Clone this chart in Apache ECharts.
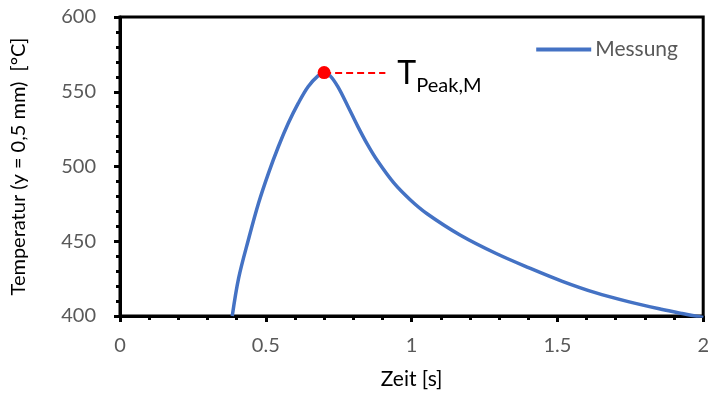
<!DOCTYPE html>
<html>
<head>
<meta charset="utf-8">
<script src="https://cdn.jsdelivr.net/npm/echarts@6/dist/echarts.min.js"></script>
<style>
  html, body { margin: 0; padding: 0; background: #fff; }
  #chart { width: 712px; height: 396px; }
</style>
</head>
<body>
<div id="chart"></div>
<script>
// Messung: Zeit [s] / Temperatur [°C]
const zeit = [0.385, 0.407, 0.441, 0.475, 0.509, 0.543, 0.577, 0.611, 0.645, 0.679, 0.700,
  0.720, 0.747, 0.781, 0.815, 0.849, 0.883, 0.939, 0.996, 1.053, 1.166, 1.290,
  1.403, 1.517, 1.630, 1.743, 1.856, 1.924, 2.0];
const temperatur = [400, 425.5, 451.5, 475.4, 495.4, 513.2, 528.9, 542.2, 553.4, 560.6, 562.8,
  560.8, 553.4, 540.5, 527, 514.6, 503.8, 489, 477.6, 468.4, 454.2, 441.8,
  432.2, 423.2, 415.6, 409.6, 404.5, 401.8, 399];
const xTicks = { min: 0, max: 2, interval: 0.5 };
const yTicks = { min: 400, max: 600, interval: 50 };
const peakLabel = 'T';
const peakSub = 'Peak,M';
const dashLen = 0.21; // how far the dashed line runs to the right, in seconds

// peak of the measurement
let iPeak = 0;
temperatur.forEach((v, i) => { if (v > temperatur[iPeak]) iPeak = i; });
const peak = [zeit[iPeak], temperatur[iPeak]];

const font = 'Lato, "Open Sans", sans-serif';
const grey = '#595959';

const chart = echarts.init(document.getElementById('chart'), null, { renderer: 'canvas' });
chart.setOption({
  animation: false,
  textStyle: { fontFamily: font },
  grid: {
    left: 120, top: 17, right: 3, bottom: 80,
    show: true, borderColor: '#000', borderWidth: 3
  },
  legend: {
    data: [{ name: 'Messung', icon: 'rect' }],
    right: 29, top: 34,
    itemWidth: 55, itemHeight: 4, itemGap: 6,
    textStyle: { color: grey, fontSize: 21, fontFamily: font, padding: [0, 0, 0, -1] }
  },
  xAxis: {
    type: 'value',
    min: xTicks.min, max: xTicks.max, interval: xTicks.interval,
    name: 'Zeit [s]', nameLocation: 'middle', nameGap: 53,
    nameTextStyle: { color: '#000', fontSize: 21, fontFamily: font },
    axisLine: { lineStyle: { color: '#000', width: 3 } },
    axisTick: { show: true, length: 6, lineStyle: { color: '#000', width: 3 } },
    minorTick: { show: true, splitNumber: 5, length: 4, lineStyle: { color: '#000', width: 3 } },
    splitLine: { show: false },
    axisLabel: { color: grey, fontSize: 20, margin: 20, fontFamily: font }
  },
  yAxis: {
    type: 'value',
    min: yTicks.min, max: yTicks.max, interval: yTicks.interval,
    name: 'Temperatur (y = 0,5 mm)  [°C]', nameLocation: 'middle', nameGap: 91,
    nameTextStyle: { color: '#000', fontSize: 20, fontFamily: font },
    axisLine: { lineStyle: { color: '#000', width: 3 } },
    axisTick: { show: true, length: 6, lineStyle: { color: '#000', width: 3 } },
    minorTick: { show: true, splitNumber: 5, length: 4, lineStyle: { color: '#000', width: 3 } },
    splitLine: { show: false },
    axisLabel: { color: grey, fontSize: 20, margin: 24, fontFamily: font }
  },
  series: [{
    name: 'Messung',
    type: 'line',
    smooth: 0.35,
    symbol: 'none',
    clip: true,
    color: '#4472C4',
    lineStyle: { color: '#4472C4', width: 3.5 },
    data: zeit.map((t, i) => [t, temperatur[i]]),
    markPoint: {
      symbol: 'circle', symbolSize: 13,
      itemStyle: { color: '#FF0000' },
      label: { show: false },
      data: [{ coord: peak }]
    },
    markLine: {
      symbol: ['none', 'none'],
      silent: true,
      lineStyle: { color: '#FF0000', type: [7, 4], width: 2 },
      label: {
        show: true, position: 'end', distance: 12,
        formatter: '{a|' + peakLabel + '}{b|' + peakSub + '}',
        rich: {
          a: { fontSize: 32, color: '#000', fontFamily: font, verticalAlign: 'bottom', lineHeight: 34 },
          b: { fontSize: 20, color: '#000', fontFamily: font, verticalAlign: 'bottom', padding: [0, 0, -6, 0], lineHeight: 34 }
        }
      },
      data: [[{ coord: peak }, { coord: [peak[0] + dashLen, peak[1]] }]]
    }
  }]
});
</script>
</body>
</html>
